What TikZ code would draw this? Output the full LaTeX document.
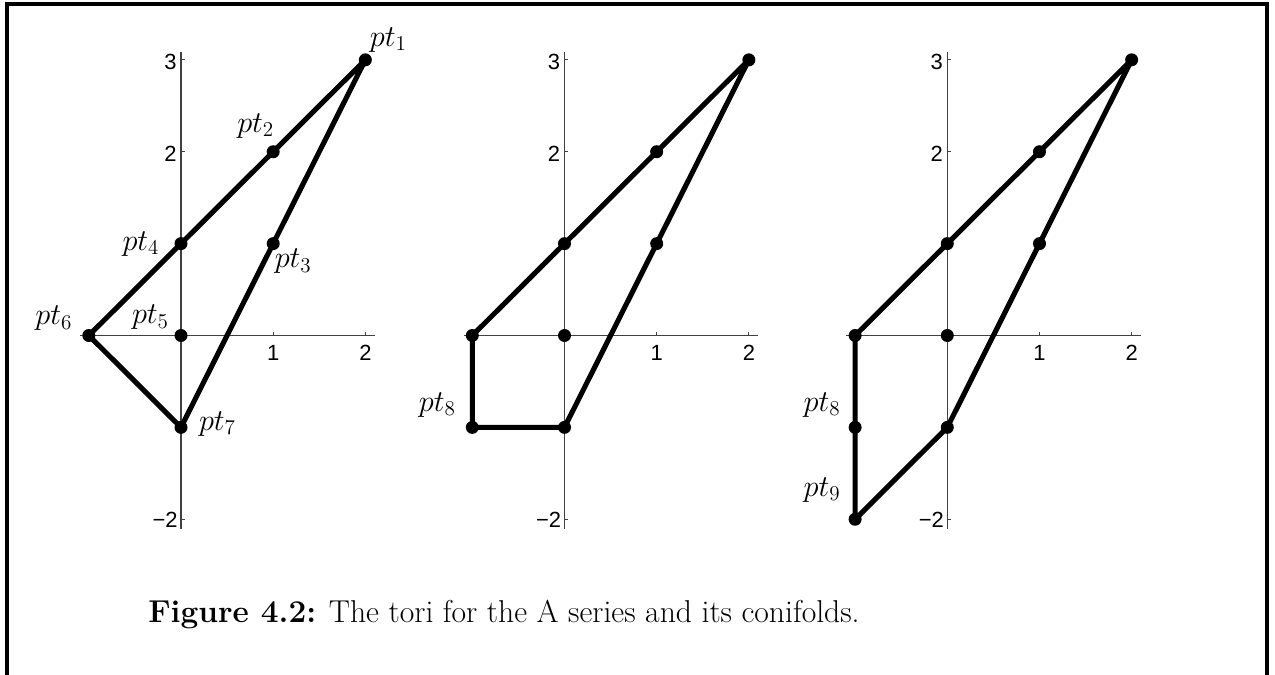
\documentclass[tikz,border=0pt]{standalone}
\usepackage{fontspec}
\newfontfamily\tickfont{Liberation Sans}
\newcommand\plotaxes[1]{%
  \coordinate (#1xl) at (-1.095,0); \coordinate (#1xr) at (2.104,0);
  \coordinate (#1yb) at (0,-2.105); \coordinate (#1yt) at (0,3.085);
  \draw[axisline] (#1xl) -- (#1xr);
  \draw[axisline] (#1yb) -- (#1yt);
  \coordinate (#1t1) at (1,0); \coordinate (#1t2) at (2,0);
  \coordinate (#1s3) at (0,3); \coordinate (#1s2) at (0,2); \coordinate (#1sm) at (0,-2);
  \draw[axisline] (#1t1) -- ++(0,2.2pt);
  \draw[axisline] (#1t2) -- ++(0,2.2pt);
  \draw[axisline] (#1s3) -- ++(2.2pt,0);
  \draw[axisline] (#1s2) -- ++(2.2pt,0);
  \draw[axisline] (#1sm) -- ++(2.2pt,0);
  \node[ticklab, anchor=north, yshift=-0.19cm] (#1l1) at (#1t1) {1};
  \node[ticklab, anchor=north, yshift=-0.19cm] (#1l2) at (#1t2) {2};
  \node[ticklab, anchor=east, xshift=-0.08cm, yshift=-0.04cm] (#1l3) at (#1s3) {3};
  \node[ticklab, anchor=east, xshift=-0.08cm, yshift=-0.04cm] (#1lb) at (#1s2) {2};
  \node[ticklab, anchor=east, xshift=-0.06cm, yshift=-0.02cm] (#1lm) at (#1sm) {−2};
}
\begin{document}
\begin{tikzpicture}[x=0.02cm,y=-0.02cm,
  edge/.style={line width=2.9pt, line join=round, line cap=round},
  dot/.style={circle, fill=black, inner sep=0pt, minimum size=0.26cm},
  lab/.style={inner sep=0pt, font=\fontsize{18}{20}\selectfont},
  axisline/.style={line width=0.6pt, black!75},
  ticklab/.style={inner sep=0pt, font=\tickfont\fontsize{12.5}{14}\selectfont},
  framestyle/.style={line width=0.09cm}]
\useasboundingbox (0,0) rectangle (1275,675);
% frame
\coordinate (fbl) at (7,675); \coordinate (ftl) at (7,4);
\coordinate (ftr) at (1267,4); \coordinate (fbr) at (1267,675);
\draw[framestyle] (fbl) -- (ftl) -- (ftr) -- (fbr);

% ---------- panel 1 ----------
\begin{scope}[shift={(181,335.5)}, x=1.844cm, y=1.838cm]
  \plotaxes{a}
  \coordinate (A1) at (2,3); \coordinate (A2) at (1,2); \coordinate (A3) at (1,1);
  \coordinate (A4) at (0,1); \coordinate (A5) at (0,0); \coordinate (A6) at (-1,0);
  \coordinate (A7) at (0,-1);
  \draw[edge] (A1) -- (A2) -- (A4) -- (A6) -- (A7) -- (A3) -- cycle;
  \foreach \p in {A1,A2,A3,A4,A5,A6,A7} \node[dot] (d\p) at (\p) {};
  \node[lab] (LA1) at ([shift={(0.46cm,0.40cm)}]A1) {$pt_1$};
  \node[lab] (LA2) at ([shift={(-0.35cm,0.52cm)}]A2) {$pt_2$};
  \node[lab] (LA3) at ([shift={(0.40cm,-0.36cm)}]A3) {$pt_3$};
  \node[lab] (LA4) at ([shift={(-0.80cm,0cm)}]A4) {$pt_4$};
  \node[lab] (LA5) at ([shift={(-0.61cm,0.36cm)}]A5) {$pt_5$};
  \node[lab] (LA6) at ([shift={(-0.70cm,0.34cm)}]A6) {$pt_6$};
  \node[lab] (LA7) at ([shift={(0.73cm,0.07cm)}]A7) {$pt_7$};
\end{scope}

% ---------- panel 2 ----------
\begin{scope}[shift={(564.5,335.5)}, x=1.844cm, y=1.838cm]
  \plotaxes{b}
  \coordinate (B1) at (2,3); \coordinate (B2) at (1,2); \coordinate (B3) at (1,1);
  \coordinate (B4) at (0,1); \coordinate (B5) at (0,0); \coordinate (B6) at (-1,0);
  \coordinate (B7) at (0,-1); \coordinate (B8) at (-1,-1);
  \draw[edge] (B1) -- (B2) -- (B4) -- (B6) -- (B8) -- (B7) -- (B3) -- cycle;
  \foreach \p in {B1,B2,B3,B4,B5,B6,B7,B8} \node[dot] (d\p) at (\p) {};
  \node[lab] (LB8) at ([shift={(-0.70cm,0.45cm)}]B8) {$pt_8$};
\end{scope}

% ---------- panel 3 ----------
\begin{scope}[shift={(947.3,335.5)}, x=1.844cm, y=1.838cm]
  \plotaxes{c}
  \coordinate (C1) at (2,3); \coordinate (C2) at (1,2); \coordinate (C3) at (1,1);
  \coordinate (C4) at (0,1); \coordinate (C5) at (0,0); \coordinate (C6) at (-1,0);
  \coordinate (C7) at (0,-1); \coordinate (C8) at (-1,-1); \coordinate (C9) at (-1,-2);
  \draw[edge] (C1) -- (C2) -- (C4) -- (C6) -- (C8) -- (C9) -- (C7) -- (C3) -- cycle;
  \foreach \p in {C1,C2,C3,C4,C5,C6,C7,C8,C9} \node[dot] (d\p) at (\p) {};
  \node[lab] (LC8) at ([shift={(-0.66cm,0.45cm)}]C8) {$pt_8$};
  \node[lab] (LC9) at ([shift={(-0.66cm,0.59cm)}]C9) {$pt_9$};
\end{scope}

% caption
\node[anchor=base west, inner sep=0pt, font=\fontsize{18}{22}\selectfont] (cap) at (148,622)
  {\textbf{Figure 4.2:} The tori for the A series and its conifolds.};
\end{tikzpicture}
\end{document}
